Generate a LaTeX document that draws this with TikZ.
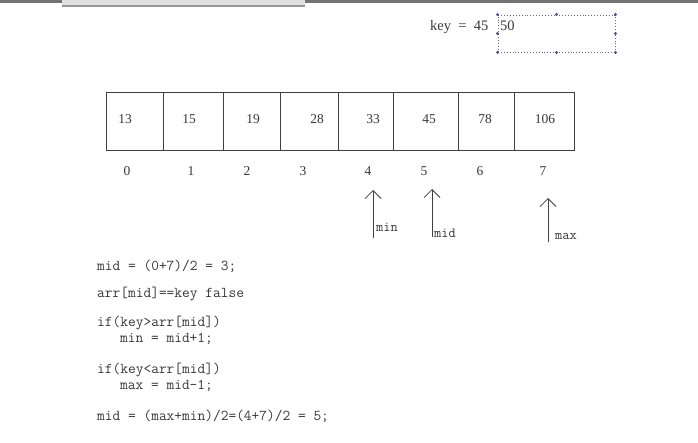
\documentclass[tikz,border=0pt]{standalone}
\usepackage{fontspec}
\setmainfont{Liberation Serif}
\usetikzlibrary{arrows.meta}
\begin{document}
\begin{tikzpicture}[x=1pt,y=-1pt,
  ink/.style={black!78},
  cell/.style={draw=black!75,line width=0.8pt,minimum height=58pt,inner sep=0pt,outer sep=0pt},
  val/.style={ink,font=\fontsize{13.5}{14}\selectfont,anchor=base,inner sep=0pt},
  idx/.style={ink,font=\fontsize{13.5}{14}\selectfont,anchor=base,inner sep=0pt},
  code/.style={ink,font=\ttfamily\fontsize{15}{16}\selectfont,anchor=base west,inner sep=0pt},
  lbl/.style={ink,font=\ttfamily\fontsize{14}{15}\selectfont,anchor=base west,inner sep=0pt},
  ptr/.style={black!75,line width=0.8pt,-{Straight Barb[length=8pt,width=16pt]}},
  handle/.style={fill=blue!40!black!70}
]
\useasboundingbox (0,0) rectangle (698,442);
\fill[white] (0,0) rectangle (698,442);
% top window strip
\fill[black!55] (0,0) rectangle (698,2.5);
\fill[black!12] (62,0) rectangle (305,5);
\fill[black!40] (62,5) rectangle (305,6.5);

% key
\node[ink,font=\fontsize{14.5}{15}\selectfont,anchor=base west,inner sep=0pt] (key) at (430,30) {key\ \ =\ \ 45};
\node[draw=blue!30!black!60,dotted,line width=0.9pt,minimum width=117pt,minimum height=37pt,inner sep=0pt] (keybox) at (556.5,33.5) {};
\foreach \a in {north west,north,north east,east,south east,south,south west,west}
  \fill[handle] (keybox.\a) circle (1.6pt);
\node[ink,font=\fontsize{14.5}{15}\selectfont,anchor=base west,inner sep=0pt] (kv) at (500,30) {50};

% cells
\node[cell,minimum width=57pt] (c0) at (134.5,121.5) {};
\node[cell,minimum width=60pt] (c1) at (193,121.5) {};
\node[cell,minimum width=57pt] (c2) at (251.5,121.5) {};
\node[cell,minimum width=58pt] (c3) at (309,121.5) {};
\node[cell,minimum width=55pt] (c4) at (365.5,121.5) {};
\node[cell,minimum width=65pt] (c5) at (425.5,121.5) {};
\node[cell,minimum width=56pt] (c6) at (486,121.5) {};
\node[cell,minimum width=60pt] (c7) at (544,121.5) {};

\node[val] (v0) at (125,123) {13};
\node[val] (v1) at (189,123) {15};
\node[val] (v2) at (253,123) {19};
\node[val] (v3) at (317,123) {28};
\node[val] (v4) at (373,123) {33};
\node[val] (v5) at (429,123) {45};
\node[val] (v6) at (485,123) {78};
\node[val] (v7) at (545,123) {106};

\node[idx] (i0) at (127,175) {0};
\node[idx] (i1) at (191,175) {1};
\node[idx] (i2) at (247,175) {2};
\node[idx] (i3) at (303,175) {3};
\node[idx] (i4) at (368,175) {4};
\node[idx] (i5) at (424,175) {5};
\node[idx] (i6) at (480,175) {6};
\node[idx] (i7) at (543,175) {7};

% pointers
\coordinate (minT) at (373,238); \coordinate (minH) at (373,190);
\coordinate (midT) at (432,237); \coordinate (midH) at (432,189);
\coordinate (maxT) at (548,242); \coordinate (maxH) at (548,198);
\draw[ptr] (minT) -- (minH);
\draw[ptr] (midT) -- (midH);
\draw[ptr] (maxT) -- (maxH);
\node[lbl] (lmin) at (376,231) {min};
\node[lbl] (lmid) at (434,237) {mid};
\node[lbl] (lmax) at (555,239) {max};

% code
\node[code] (l1) at (97,270) {mid = (0+7)/2 = 3;};
\node[code] (l2) at (97,297) {arr[mid]==key false};
\node[code] (l3) at (97,326) {if(key>arr[mid])};
\node[code] (l4) at (120,342) {min = mid+1;};
\node[code] (l5) at (97,373) {if(key<arr[mid])};
\node[code] (l6) at (120,389) {max = mid-1;};
\node[code] (l7) at (97,420) {mid = (max+min)/2=(4+7)/2 = 5;};
\end{tikzpicture}
\end{document}
